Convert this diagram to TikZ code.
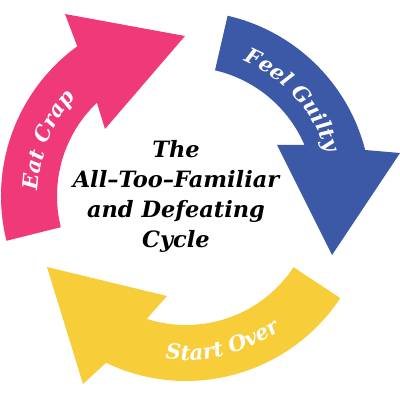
\documentclass[tikz,border=0pt]{standalone}
\usepackage{fontspec}
\setmainfont{DejaVu Serif}
\usetikzlibrary{calc,decorations.text}
\definecolor{pinkA}{RGB}{239,57,121}
\definecolor{blueA}{RGB}{60,89,167}
\definecolor{yellowA}{RGB}{247,206,58}
\begin{document}
\begin{tikzpicture}[x=1pt,y=1pt]
\useasboundingbox (0,0) rectangle (400,400);
\coordinate (C) at (186,204);
% pink arrow (Eat Crap)
\fill[pinkA] ($(C)+(194:185)$) arc[start angle=194, end angle=126, radius=185]
  -- (65,386) -- (185,364) -- (105,271)
  -- ($(C)+(133.7:129)$) arc[start angle=133.7, end angle=194, radius=129] -- cycle;
% blue arrow (Feel Guilty)
\fill[blueA] ($(C)+(77:185)$) arc[start angle=77, end angle=14.4, radius=185]
  -- (400,247) -- (332,145) -- (277,255)
  -- ($(C)+(23.3:129)$) arc[start angle=23.3, end angle=77, radius=129] -- cycle;
% yellow arrow (Start Over)
\fill[yellowA] ($(C)+(-33.5:185)$) arc[start angle=-33.5, end angle=-115.6, radius=185]
  -- (83,16) -- (47,133) -- (167,104)
  -- ($(C)+(-107.7:129)$) arc[start angle=-107.7, end angle=-33.5, radius=129] -- cycle;
% curved labels
\path[decorate, decoration={text along path, text align=center,
   text={|\fontsize{21}{21}\selectfont\bfseries\itshape\color{white}|Eat Crap}}]
   ($(C)+(203:148)$) arc[start angle=203, end angle=113, radius=148];
\path[decorate, decoration={text along path, text align=center,
   text={|\fontsize{21}{21}\selectfont\bfseries\itshape\color{white}|Feel Guilty}}]
   ($(C)+(87:147)$) arc[start angle=87, end angle=-3, radius=147];
\path[decorate, decoration={text along path, text align=center,
   text={|\fontsize{21}{21}\selectfont\bfseries\itshape\color{white}|Start Over}}]
   ($(C)+(-121:164)$) arc[start angle=-121, end angle=-31, radius=164];
% centre title
\node[align=center, font=\fontsize{22.5}{29.7}\selectfont\bfseries\itshape, inner sep=0pt,
  anchor=base] (title) at (176,153) {The\\All–Too–Familiar\\and Defeating\\Cycle};
\end{tikzpicture}
\end{document}
